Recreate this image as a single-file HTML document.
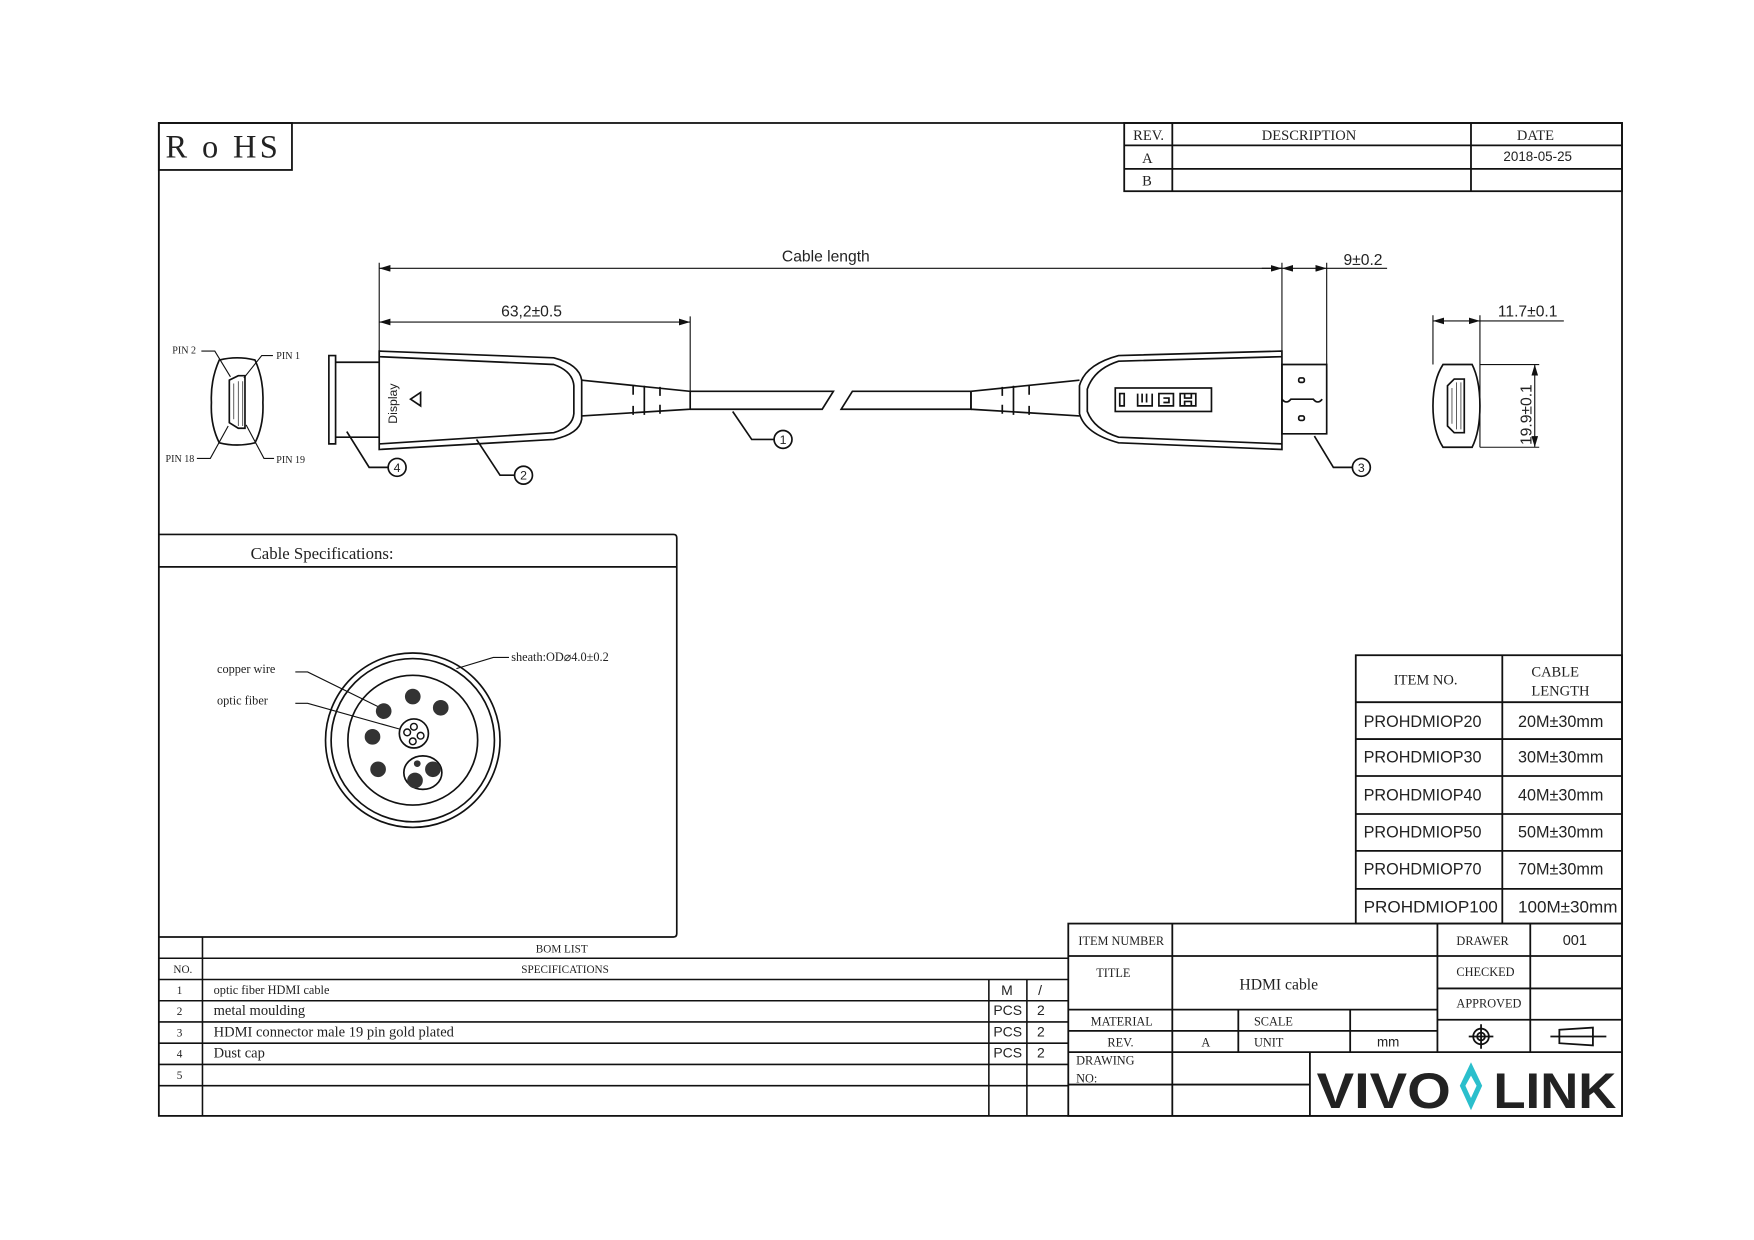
<!DOCTYPE html>
<html><head><meta charset="utf-8"><style>
html,body{margin:0;padding:0;background:#fff;}
svg{display:block;}
text{font-family:"Liberation Serif","Noto Serif CJK SC",serif;fill:#222;}
text.s,.s text{font-family:"Liberation Sans",sans-serif;}
</style></head><body>
<svg width="1754" height="1240" viewBox="0 0 1568 1109" preserveAspectRatio="none" xmlns="http://www.w3.org/2000/svg">
<defs>
<marker id="a" viewBox="0 0 10 6" refX="10" refY="3" markerWidth="10" markerHeight="6" orient="auto-start-reverse" markerUnits="userSpaceOnUse"><path d="M0,0 L10,3 L0,6z" fill="#111"/></marker>
</defs>
<g fill="none" stroke="#111" stroke-width="1.6">
<rect x="142" y="110" width="1308" height="888"/>
<rect x="142" y="110" width="119" height="42"/>
<rect x="1005" y="110" width="445" height="61"/>
<path d="M1005 130H1450M1005 151H1450M1048 110V171M1315 110V171"/>
</g>
<text x="148" y="141" font-size="29" letter-spacing="3">R o HS</text>
<text x="1013" y="125" font-size="13">REV.</text>
<text x="1128" y="125" font-size="13">DESCRIPTION</text>
<text x="1356" y="125" font-size="13">DATE</text>
<text x="1021" y="146" font-size="13">A</text>
<text x="1021" y="166" font-size="13">B</text>
<text x="1344" y="144" font-size="12" class="s">2018-05-25</text>

<g fill="none" stroke="#111" stroke-width="1">
<path d="M339 235V318M617 283V365M1146 235V318M1186 235V360"/>
<line x1="339" y1="240" x2="1146" y2="240" marker-start="url(#a)" marker-end="url(#a)"/>
<line x1="339" y1="288" x2="617" y2="288" marker-start="url(#a)" marker-end="url(#a)"/>
<line x1="1146" y1="240" x2="1186" y2="240" marker-start="url(#a)" marker-end="url(#a)"/>
<path d="M1186 240H1240M1128 240H1146"/>
<line x1="1281" y1="287" x2="1323" y2="287" marker-start="url(#a)" marker-end="url(#a)"/>
<path d="M1281 282V326M1323 282V400M1323 287H1398M1323 326H1376M1323 400H1376"/>
<line x1="1372" y1="326" x2="1372" y2="400" marker-start="url(#a)" marker-end="url(#a)"/>
</g>
<text x="699" y="234" font-size="14" class="s">Cable length</text>
<text x="448" y="283" font-size="14" class="s">63,2±0.5</text>
<text x="1201" y="237" font-size="14" class="s">9±0.2</text>
<text x="1339" y="283" font-size="14" class="s">11.7±0.1</text>
<text x="0" y="0" font-size="14" class="s" transform="translate(1369,398) rotate(-90)">19.9±0.1</text>

<g fill="none" stroke="#111" stroke-width="1.5">
<path d="M294 318H300V397H294Z"/>
<path d="M300 324H339M300 391H339"/>
<path d="M339 314L495 320Q518 326 520 340V375Q518 388 495 393L339 402Z"/>
<path d="M339 319L495 326Q512 332 513 345V370Q512 382 495 387L339 397"/>
<path d="M520 340L617 350V366L520 372"/>
<path d="M566 345v8M566 363v8M576 345v26M590 346v8M590 362v8"/>
<path d="M617 350H745L735 366H617"/>
<path d="M752 366L762 350H868V366Z"/>
<path d="M868 350L965 340M868 366L965 372M868 350V366"/>
<path d="M906 345v26M896 346v8M896 362v8M920 345v8M920 363v8"/>
<path d="M1146 314L1000 318Q970 326 965 345V370Q970 388 1000 396L1146 402Z"/>
<path d="M1146 319L1000 323Q978 330 972 348V368Q978 384 1000 391L1146 397"/>
<rect x="997" y="347" width="86" height="21"/>
<path d="M1146 326H1186V388H1146Z"/>
<path d="M1146 357q4 5 8 0h20q4 5 8 0"/>
<rect x="1161" y="338" width="5" height="4" rx="1.5"/>
<rect x="1161" y="372" width="5" height="4" rx="1.5"/>
<path d="M1001 352h4v11h-4zM1017 352v11h13v-11M1021 352v8M1025 352v8M1036 352h13v11h-13zM1040 356h5v4h-5M1055 352v11h14v-11zM1059 352v4h6v-4M1059 363v-4h6v4"/>
<path d="M367 357L376 351V363Z"/>
<path d="M655 368L672 393H692M426 393L447 425H460M310 386L330 418H347M1175 390L1192 418H1209"/>
<circle cx="700" cy="393" r="8"/><circle cx="468" cy="425" r="8"/><circle cx="355" cy="418" r="8"/><circle cx="1217" cy="418" r="8"/>
<path d="M196 322Q212 318 228 322Q236 340 235 360Q236 380 228 396Q212 400 196 396Q188 380 189 360Q188 340 196 322Z"/>
<path d="M205 340L213 336H219V383H213L205 378Z"/>
<path d="M209 343v32M213 341v40M217 341v40" stroke-width="0.6"/>
<path d="M206 337L192 314H180M218 338L234 318H244M204 381L188 410H176M220 380L236 410H245" stroke-width="1"/>
<path d="M1290 326H1316Q1323 340 1323 363Q1323 386 1316 400H1290Q1281 386 1281 363Q1281 340 1290 326Z"/>
<path d="M1294 345L1300 339H1309V387H1300L1294 381Z"/>
<path d="M1298 347v32M1302 342v42M1306 342v42" stroke-width="0.6"/>
</g>
<g font-size="9">
<text x="154" y="316">PIN 2</text><text x="247" y="321">PIN 1</text>
<text x="148" y="413">PIN 18</text><text x="247" y="414">PIN 19</text>
</g>
<g font-size="11" class="s" text-anchor="middle">
<text x="700" y="397">1</text><text x="468" y="429">2</text><text x="355" y="422">4</text><text x="1217" y="422">3</text>
</g>
<text x="0" y="0" font-size="11" class="s" transform="translate(355,379) rotate(-90)">Display</text>

<g fill="none" stroke="#111" stroke-width="1.5">
<path d="M142 478H602Q605 478 605 481V835Q605 838 602 838H142M142 507H605"/>
<circle cx="369" cy="662" r="78"/><circle cx="369" cy="662" r="73"/><circle cx="369" cy="662" r="58"/>
<circle cx="370" cy="656" r="13"/>
<ellipse cx="378" cy="691" rx="17" ry="15"/>
<g stroke-width="1.3"><circle cx="364" cy="655" r="3"/><circle cx="370" cy="650" r="3"/><circle cx="376" cy="658" r="3"/><circle cx="369" cy="663" r="3"/></g>
<path d="M264 601H275L340 633M264 629H275L357 652" stroke-width="1"/>
<path d="M455 588H441L408 598" stroke-width="1"/>
</g>
<g fill="#333">
<circle cx="343" cy="636" r="7"/><circle cx="369" cy="623" r="7"/><circle cx="394" cy="633" r="7"/>
<circle cx="333" cy="659" r="7"/><circle cx="338" cy="688" r="7"/><circle cx="373" cy="683" r="3"/>
<circle cx="387" cy="688" r="7"/><circle cx="371" cy="698" r="7"/>
</g>
<text x="224" y="500" font-size="15">Cable Specifications:</text>
<text x="194" y="602" font-size="11">copper wire</text>
<text x="194" y="630" font-size="11">optic fiber</text>
<text x="457" y="591" font-size="11">sheath:OD⌀4.0±0.2</text>

<g fill="none" stroke="#111" stroke-width="1.6">
<rect x="1212" y="586" width="238" height="240"/>
<path d="M1343 586V826M1212 628H1450M1212 661H1450M1212 694H1450M1212 728H1450M1212 761H1450M1212 795H1450"/>
</g>
<text x="1246" y="612" font-size="13">ITEM NO.</text>
<text x="1369" y="605" font-size="13">CABLE</text>
<text x="1369" y="622" font-size="13">LENGTH</text>
<g font-size="14.5" class="s">
<text x="1219" y="650">PROHDMIOP20</text><text x="1357" y="650">20M±30mm</text>
<text x="1219" y="682">PROHDMIOP30</text><text x="1357" y="682">30M±30mm</text>
<text x="1219" y="716">PROHDMIOP40</text><text x="1357" y="716">40M±30mm</text>
<text x="1219" y="749">PROHDMIOP50</text><text x="1357" y="749">50M±30mm</text>
<text x="1219" y="782">PROHDMIOP70</text><text x="1357" y="782">70M±30mm</text>
<text x="1219" y="816" textLength="120" lengthAdjust="spacingAndGlyphs">PROHDMIOP100</text><text x="1357" y="816" textLength="89" lengthAdjust="spacingAndGlyphs">100M±30mm</text>
</g>

<g fill="none" stroke="#111" stroke-width="1.4">
<path d="M142 857H955M142 876H955M142 895H955M142 914H955M142 933H955M142 952H955M142 971H955M181 838V998M884 876V998M918 876V998"/>
</g>
<g font-size="10">
<text x="479" y="852">BOM LIST</text>
<text x="466" y="870">SPECIFICATIONS</text>
<text x="155" y="870">NO.</text>
<text x="158" y="889">1</text><text x="158" y="908">2</text><text x="158" y="927">3</text><text x="158" y="946">4</text><text x="158" y="965">5</text>
<text x="191" y="889" font-size="11">optic fiber HDMI cable</text>
</g>
<g font-size="13">
<text x="191" y="908">metal moulding</text>
<text x="191" y="927">HDMI connector male 19 pin gold plated</text>
<text x="191" y="946">Dust cap</text>
</g>
<g font-size="12.5" class="s">
<text x="895" y="890">M</text><text x="928" y="890">/</text>
<text x="888" y="908">PCS</text><text x="927" y="908">2</text>
<text x="888" y="927">PCS</text><text x="927" y="927">2</text>
<text x="888" y="946">PCS</text><text x="927" y="946">2</text>
</g>

<g fill="none" stroke="#111" stroke-width="1.6">
<rect x="955" y="826" width="495" height="172"/>
<path d="M955 855H1450M955 903H1285M955 922H1285M1285 884H1450M1285 912H1450M955 941H1450M955 970H1171M1048 826V998M1107 903V941M1207 903V941M1285 826V941M1368 826V941M1171 941V998"/>
<circle cx="1324" cy="927" r="7"/><circle cx="1324" cy="927" r="3.5"/>
<path d="M1313 927H1335M1324 916V938M1386 927H1436M1394 921L1424 919V935L1394 933Z"/>
</g>
<g font-size="11">
<text x="964" y="845">ITEM NUMBER</text>
<text x="980" y="874">TITLE</text>
<text x="975" y="917">MATERIAL</text>
<text x="1121" y="917">SCALE</text>
<text x="990" y="936">REV.</text>
<text x="1074" y="936">A</text>
<text x="1121" y="936">UNIT</text>
<text x="962" y="952">DRAWING</text>
<text x="962" y="968">NO:</text>
<text x="1302" y="845">DRAWER</text>
<text x="1302" y="873">CHECKED</text>
<text x="1302" y="901">APPROVED</text>
</g>
<text x="1108" y="885" font-size="14">HDMI cable</text>
<text x="1231" y="936" font-size="12" class="s">mm</text>
<text x="1397" y="845" font-size="13" class="s">001</text>
<text x="1177" y="991" font-size="45" font-weight="bold" class="s" fill="#111" textLength="120" lengthAdjust="spacingAndGlyphs">VIVO</text>
<path d="M1315 950L1325 971L1315 993L1305 971Z M1315 962L1320 971L1315 982L1310 971Z" fill="#2bbfcc" fill-rule="evenodd"/>
<text x="1335" y="991" font-size="45" font-weight="bold" class="s" fill="#111" textLength="110" lengthAdjust="spacingAndGlyphs">LINK</text>
</svg>
</body></html>
